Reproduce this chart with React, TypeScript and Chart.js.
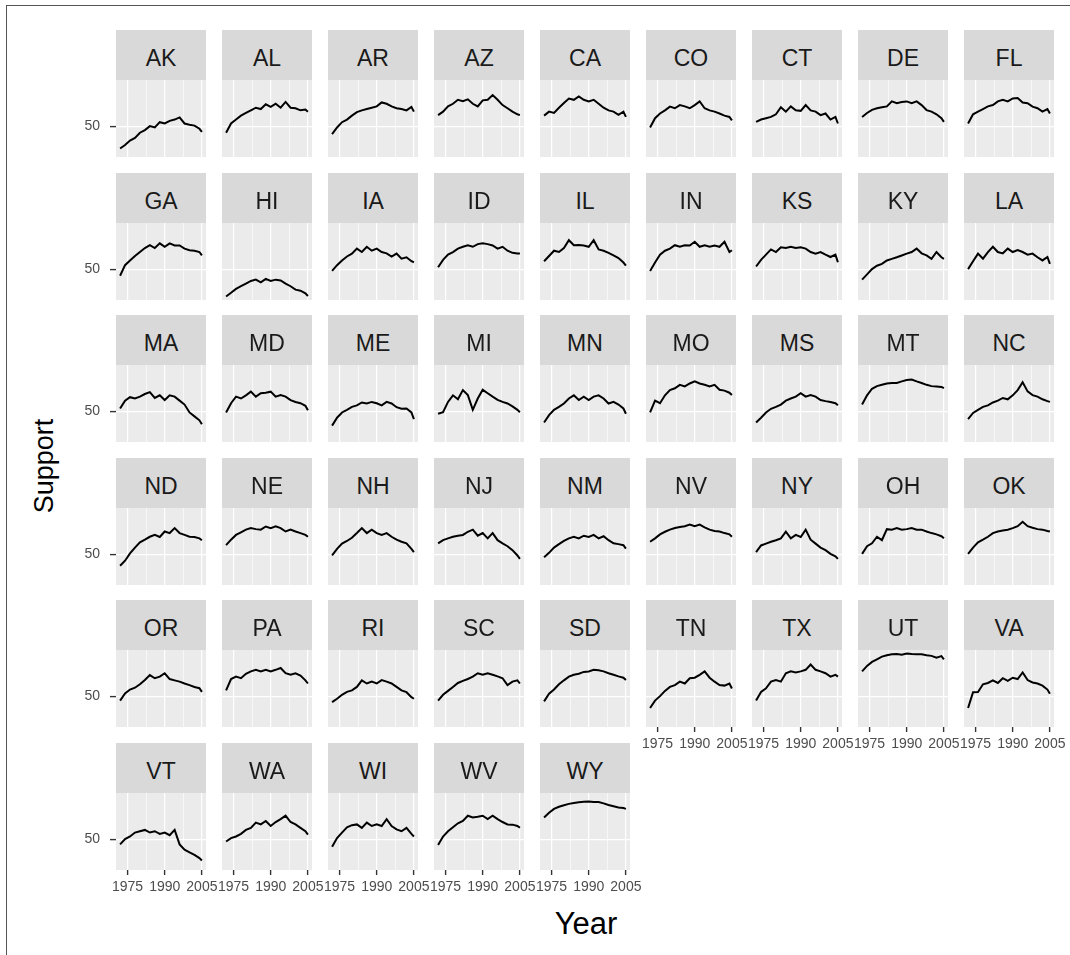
import React, { useEffect, useRef } from "react";
import { Chart, registerables } from "chart.js";

Chart.register(...registerables);

// ---------- data ----------
const YEARS = [1972, 1974, 1976, 1978, 1980, 1982, 1984, 1986, 1988, 1990, 1992, 1994, 1996, 1998, 2000, 2002, 2004, 2005];

const AK = [41.5, 42.8, 44.5, 45.5, 47.5, 48.5, 50, 49.5, 51.5, 51, 52, 52.5, 53.3, 51, 50.5, 50.2, 49, 47.8];
const AL = [47.5, 51, 52.5, 54, 55, 56, 57, 56.5, 58.3, 57.3, 58.5, 57, 59.2, 57, 56.8, 56, 56.3, 55.5];
const AR = [47, 49.5, 51.5, 52.5, 54, 55.3, 56, 56.5, 57, 57.5, 59, 58.5, 57.5, 56.8, 56.5, 56, 57.3, 55.5];
const AZ = [54.2, 55.5, 57.5, 58.5, 60, 59.5, 60.2, 58.5, 57.5, 59.8, 60, 61.8, 60, 58, 56.8, 55.5, 54.5, 54.2];
const CA = [54, 55.5, 55, 57, 58.8, 60.5, 60, 61.3, 60, 59.4, 60, 58.5, 57, 56, 55.5, 54.3, 55.5, 53.5];
const CO = [49.5, 53, 54.8, 56, 57.4, 56.8, 58, 57.5, 56.8, 58, 59.4, 56.8, 56, 55.5, 54.8, 54, 53.5, 52.2];
const CT = [51.6, 52.5, 53, 53.5, 54.5, 57.2, 55.5, 57.5, 56, 55.8, 58, 56, 55.5, 54.2, 54.8, 52.5, 53.5, 51];
const DE = [53.5, 55, 56.2, 56.8, 57.2, 57.5, 59.4, 58.7, 59.2, 59.4, 58.7, 59.4, 58, 56.1, 55.5, 54.5, 53, 51.6];
const FL = [51, 54.5, 55.5, 56.5, 57.5, 58, 59.4, 60, 59.4, 60.5, 60.7, 59, 58.7, 57.4, 56.8, 55.5, 56.5, 54.8];
const GA = [47.5, 51.5, 53.3, 55, 56.5, 58, 59.1, 58, 59.8, 58.5, 59.8, 59, 59, 57.8, 57.2, 57, 56.5, 55.2];
const HI = [39.6, 41, 42.5, 43.5, 44.5, 45.5, 46, 45, 46.3, 45.5, 46, 45.7, 44.5, 43.5, 42.2, 41.8, 40.8, 39.8];
const IA = [49.3, 51.5, 53.3, 54.8, 55.9, 57.8, 56.5, 58.5, 57, 57.8, 56.5, 56, 54.8, 55.9, 54, 54.5, 53, 52.6];
const ID = [50.7, 53.5, 55.5, 56.5, 57.8, 58.5, 59.1, 58.5, 59.5, 59.8, 59.5, 59, 57.8, 58.5, 57, 56.2, 55.9, 55.9];
const IL = [53, 55, 57, 56.5, 58, 61, 59.1, 59.2, 59, 58.5, 61, 57.5, 57, 56.2, 55.2, 54.2, 52.5, 51.3];
const IN = [49.3, 52.5, 55.5, 57, 57.8, 59.1, 58.5, 59.1, 59, 60.4, 58.5, 59.1, 58.5, 59, 58.5, 60.4, 56.5, 57.2];
const KS = [51, 53.5, 55.5, 57.5, 56.5, 58.3, 58, 58.5, 58, 58.3, 57.8, 56.5, 55.9, 56.5, 55.5, 54.6, 55.5, 52.6];
const KY = [46, 48, 50, 51.3, 52, 53.3, 53.9, 54.5, 55.2, 55.9, 56.5, 57.8, 56, 55.2, 53.9, 56.5, 54.5, 53.9];
const LA = [50, 53, 55.9, 54, 56.5, 58.5, 56.5, 56, 57.8, 56.5, 57.2, 56.5, 55.5, 55.9, 54.5, 53.3, 54.6, 52];
const MA = [51, 54, 55.3, 54.8, 55.5, 56.5, 57.2, 55, 56, 54.2, 56, 55.5, 54, 52.5, 49.5, 48, 46.5, 45];
const MD = [49.5, 53, 55.5, 54.8, 56, 57.4, 55.5, 56.8, 57, 57.4, 55.5, 56.1, 55.5, 54.2, 53.5, 53, 52, 50.3];
const ME = [44.5, 47.5, 49.5, 50.5, 51.6, 52.2, 53.3, 52.9, 53.5, 53, 52.2, 53.5, 52.9, 51.5, 50.9, 51, 49.5, 47];
const MI = [49, 49.6, 53.5, 56, 54.5, 58, 56.1, 50.5, 54.8, 58.1, 56.8, 55.5, 54.3, 53.5, 52.9, 51.8, 50.5, 49.6];
const MN = [45.7, 48.5, 50.5, 51.6, 52.9, 54.8, 56, 54.2, 55.5, 54.2, 55.5, 56, 54.8, 52.9, 53.5, 52.5, 51, 49];
const MO = [49.5, 54, 53, 56, 58, 58.7, 60, 59.4, 60.5, 61.3, 60.5, 60, 59.4, 60, 58.1, 57.8, 57, 56.1];
const MS = [45.7, 47.5, 49.5, 50.9, 51.6, 52.5, 54, 54.8, 55.5, 56.8, 55.5, 56.1, 55.5, 54.2, 53.8, 53.5, 53, 52.2];
const MT = [52.5, 56, 58.5, 59.5, 60, 60.5, 60.7, 60.7, 61.3, 61.8, 62, 61.3, 60.7, 60, 59.5, 59.4, 59.2, 58.7];
const NC = [47, 49.3, 50.5, 51.6, 52.2, 53.3, 54, 55, 54.5, 56, 58, 61, 57.5, 56.1, 55.5, 54.5, 53.8, 53.5];
const ND = [45.6, 47.5, 50.3, 52.5, 54.5, 55.5, 56.6, 57.3, 56.5, 58.6, 58, 59.9, 58, 57.3, 56.6, 56.5, 56, 55.3];
const NE = [53.4, 55.5, 57.3, 58.3, 59.3, 59.9, 59.5, 59.3, 60.5, 59.9, 60.6, 59.9, 58.6, 59.3, 58.6, 58, 57.3, 56.6];
const NH = [49.5, 52, 54, 55, 56.2, 58, 59.9, 58, 59.3, 58, 57.3, 58, 56.6, 55.5, 54.7, 54.1, 52, 50.8];
const NJ = [54.1, 55.3, 56, 56.6, 57, 57.3, 58.5, 59.3, 57, 58, 56, 58, 55.3, 54.1, 53, 51.5, 49.5, 48.2];
const NM = [48.8, 50.5, 52.5, 53.8, 55, 56, 56.6, 56, 57, 56.5, 57.3, 56, 56.8, 55.3, 54.1, 53.8, 53.4, 52.1];
const NV = [54.7, 56, 57.5, 58.5, 59.3, 59.9, 60.3, 60.6, 61.2, 60.6, 61.2, 60.2, 59.3, 58.8, 58.6, 58, 57.5, 56.6];
const NY = [50.8, 53.3, 54, 54.7, 55.3, 56, 58.5, 56, 57.3, 56.5, 59.3, 55.5, 54, 52.5, 51.5, 50.1, 49.2, 48.2];
const OH = [50.1, 53, 54.1, 56.6, 55.3, 59.5, 59.3, 59.9, 59.3, 59.5, 59.9, 59.3, 59.3, 58.6, 58, 57.5, 56.8, 56];
const OK = [50.1, 52.5, 54.5, 55.5, 56.6, 58, 58.6, 59, 59.3, 59.9, 60.6, 62.3, 60.6, 60, 59.5, 59.3, 58.8, 58.6];
const OR = [48.3, 51, 52.5, 53.2, 54.5, 56.1, 58, 56.8, 57.4, 58.7, 56.5, 56, 55.5, 54.8, 54.2, 53.5, 53, 51.6];
const PA = [52.2, 56.5, 57.4, 56.8, 58.5, 59.4, 60, 59.4, 60, 59.4, 60, 60.7, 58.7, 58.1, 58.7, 57.8, 56, 54.8];
const RI = [47.7, 49, 50.5, 51.6, 52.2, 53.5, 56, 54.8, 55.5, 54.8, 56.1, 55.5, 54.8, 53.5, 52.2, 51.5, 49.6, 49];
const SC = [48.3, 50.5, 52, 53.5, 55, 55.8, 56.5, 57.4, 58.7, 58.1, 58.7, 58.1, 57.5, 56.8, 54.2, 55.5, 56, 54.8];
const SD = [48, 50.9, 52.5, 54.5, 56, 57.4, 58.1, 58.5, 59.2, 59.4, 60, 59.8, 59.4, 58.7, 58.1, 57.5, 57, 56.1];
const TN = [45.5, 48.3, 50, 52, 53.5, 54.2, 55.5, 54.8, 56.8, 57, 58.1, 59.4, 57, 55.5, 54.2, 54, 54.8, 52.9];
const TX = [48.3, 51.6, 53, 55.5, 56.1, 55.5, 58.7, 59.4, 59, 59.4, 60, 62, 60, 59.4, 58.7, 57.4, 58.1, 57.4];
const UT = [59.4, 61.5, 63, 64, 65, 65.5, 65.9, 66, 65.7, 66.2, 66, 65.9, 65.9, 65.5, 65.3, 64.6, 65.2, 64];
const VA = [45.5, 51.5, 51.6, 54.5, 55, 56, 55, 56.8, 55.8, 57, 56.5, 59, 56.1, 55.2, 54.8, 54, 52.5, 50.9];
const VT = [48, 50, 51, 52.5, 53, 53.5, 52.5, 53, 52, 52.5, 51.5, 53.5, 48, 46, 45, 44, 42.8, 41.9];
const WA = [49.1, 50.4, 51, 52, 53.5, 54.3, 56.3, 55.6, 56.9, 55, 56.5, 57.6, 58.9, 56.5, 55.6, 54.3, 53, 51.7];
const WI = [47.1, 50.4, 52.5, 54.5, 55.3, 55.6, 54.3, 56.3, 55, 55.6, 55, 57.6, 55, 53.7, 53, 54.3, 52, 51];
const WV = [47.8, 51, 53, 54.5, 56, 56.9, 58.9, 58.2, 58.5, 58.9, 57.6, 58.9, 57.6, 56.5, 55.6, 55.5, 55, 54.3];
const WY = [58.2, 60, 61.5, 62.3, 62.9, 63.4, 63.7, 64, 64.2, 64.3, 64.1, 64.1, 63.6, 63, 62.5, 62, 61.8, 61.5];

const STATES = [
  "AK", "AL", "AR", "AZ", "CA", "CO", "CT", "DE", "FL",
  "GA", "HI", "IA", "ID", "IL", "IN", "KS", "KY", "LA",
  "MA", "MD", "ME", "MI", "MN", "MO", "MS", "MT", "NC",
  "ND", "NE", "NH", "NJ", "NM", "NV", "NY", "OH", "OK",
  "OR", "PA", "RI", "SC", "SD", "TN", "TX", "UT", "VA",
  "VT", "WA", "WI", "WV", "WY",
];

const SERIES: Record<string, number[]> = {
  AK, AL, AR, AZ, CA, CO, CT, DE, FL, GA, HI, IA, ID, IL, IN, KS, KY, LA,
  MA, MD, ME, MI, MN, MO, MS, MT, NC, ND, NE, NH, NJ, NM, NV, NY, OH, OK,
  OR, PA, RI, SC, SD, TN, TX, UT, VA, VT, WA, WI, WV, WY,
};

const X_TICKS = [1975, 1982.5, 1990, 1997.5, 2005];
const X_LABELED = [1975, 1990, 2005];
const Y_TICKS = [50];
const X_TITLE = "Year";
const Y_TITLE = "Support";

// ---------- layout ----------
const NCOL = 9;
const PLOT_X0 = 116;
const PITCH_X = 106;
const PLOT_W = 90;
const STRIP_Y0 = 30;
const STRIP_H = 50;
const PLOT_H = 77;
const PITCH_Y = 142.6;
const AXL = 40;
const AXR = 20;
const AXB = 34;
const FONT = '"Liberation Sans", Arial, Helvetica, sans-serif';

const allVals = STATES.flatMap((s) => SERIES[s]);
const Y_LO = Math.min(...allVals);
const Y_HI = Math.max(...allVals);
const Y_MIN = Y_LO - 0.05 * (Y_HI - Y_LO);
const Y_MAX = Y_HI + 0.05 * (Y_HI - Y_LO);
const X_LO = YEARS[0];
const X_HI = YEARS[YEARS.length - 1];
const X_MIN = X_LO - 0.05 * (X_HI - X_LO);
const X_MAX = X_HI + 0.05 * (X_HI - X_LO);

const panelBg = {
  id: "panelBg",
  beforeDraw(chart: any) {
    const a = chart.chartArea;
    if (!a) return;
    const ctx = chart.ctx;
    ctx.save();
    ctx.fillStyle = "#ebebeb";
    ctx.fillRect(a.left, a.top, a.right - a.left, a.bottom - a.top);
    ctx.restore();
  },
};

const zeroPad = (s: any) => {
  s.paddingLeft = 0;
  s.paddingRight = 0;
  s.paddingTop = 0;
  s.paddingBottom = 0;
};

function Panel({ state, idx }: { state: string; idx: number }) {
  const ref = useRef<HTMLCanvasElement>(null);
  const col = idx % NCOL;
  const row = Math.floor(idx / NCOL);
  const showY = col === 0;
  const showX = idx + NCOL >= STATES.length;
  const plotLeft = Math.round(PLOT_X0 + col * PITCH_X);
  const plotTop = Math.round(STRIP_Y0 + STRIP_H + row * PITCH_Y);

  useEffect(() => {
    const vals = SERIES[state];
    const chart = new Chart(ref.current as HTMLCanvasElement, {
      type: "line",
      data: {
        datasets: [
          {
            data: YEARS.map((x, i) => ({ x, y: vals[i] })),
            borderColor: "#000000",
            borderWidth: 2,
            pointRadius: 0,
            tension: 0,
            fill: false,
          },
        ],
      },
      options: {
        animation: false,
        responsive: false,
        devicePixelRatio: 1,
        events: [],
        layout: { padding: { left: 0, top: 0, bottom: 0, right: AXR }, autoPadding: false },
        plugins: {
          legend: { display: false },
          tooltip: { enabled: false },
          title: { display: false },
        },
        scales: {
          x: {
            type: "linear",
            min: X_MIN,
            max: X_MAX,
            afterBuildTicks: (s: any) => {
              s.ticks = X_TICKS.map((v) => ({ value: v }));
            },
            afterFit: (s: any) => {
              s.height = AXB;
              zeroPad(s);
            },
            border: { display: false },
            grid: {
              color: "#ffffff",
              lineWidth: (c: any) => (X_LABELED.includes(c.tick?.value) ? 1.2 : 0.6),
              drawTicks: showX,
              tickLength: 5,
              tickWidth: 1.4,
              tickColor: (c: any) => (X_LABELED.includes(c.tick?.value) ? "#333333" : "rgba(0,0,0,0)"),
            },
            ticks: {
              display: showX,
              autoSkip: false,
              maxRotation: 0,
              minRotation: 0,
              padding: 4,
              color: "#4d4d4d",
              font: { family: FONT, size: 14 },
              callback: (v: any) => (X_LABELED.includes(Number(v)) ? String(v) : ""),
            },
          },
          y: {
            type: "linear",
            min: Y_MIN,
            max: Y_MAX,
            afterBuildTicks: (s: any) => {
              s.ticks = Y_TICKS.map((v) => ({ value: v }));
            },
            afterFit: (s: any) => {
              s.width = AXL;
              zeroPad(s);
            },
            border: { display: false },
            grid: {
              color: "#ffffff",
              lineWidth: 1.2,
              drawTicks: showY,
              tickLength: 6,
              tickWidth: 1.4,
              tickColor: "#333333",
            },
            ticks: {
              display: showY,
              padding: 10,
              color: "#4d4d4d",
              font: { family: FONT, size: 14 },
              callback: (v: any) => String(v),
            },
          },
        },
      },
      plugins: [panelBg],
    } as any);
    return () => chart.destroy();
  }, [state]);

  return (
    <>
      <div
        style={{
          position: "absolute",
          left: plotLeft,
          top: plotTop - STRIP_H,
          width: PLOT_W,
          height: STRIP_H,
          background: "#d9d9d9",
          color: "#1a1a1a",
          fontFamily: FONT,
          fontSize: 23,
          lineHeight: "57px",
          textAlign: "center",
          overflow: "hidden",
        }}
      >
        {state}
      </div>
      <canvas
        ref={ref}
        width={PLOT_W + AXL + AXR}
        height={PLOT_H + AXB}
        style={{
          position: "absolute",
          left: plotLeft - AXL,
          top: plotTop,
          width: PLOT_W + AXL + AXR,
          height: PLOT_H + AXB,
        }}
      />
    </>
  );
}

export default function App() {
  return (
    <div
      style={{
        position: "fixed",
        left: 0,
        top: 0,
        width: 1070,
        height: 955,
        background: "#ffffff",
        overflow: "hidden",
      }}
    >
      <div
        style={{
          position: "absolute",
          left: 6,
          top: 5,
          width: 1070,
          height: 960,
          borderTop: "1px solid #555555",
          borderLeft: "1px solid #555555",
        }}
      />
      {STATES.map((s, i) => (
        <Panel key={s} state={s} idx={i} />
      ))}
      <div
        style={{
          position: "absolute",
          left: 44,
          top: 466,
          transform: "translate(-50%, -50%) rotate(-90deg)",
          fontFamily: FONT,
          fontSize: 27,
          lineHeight: 1,
          color: "#000000",
          whiteSpace: "nowrap",
        }}
      >
        {Y_TITLE}
      </div>
      <div
        style={{
          position: "absolute",
          left: 586,
          top: 923,
          transform: "translate(-50%, -50%)",
          fontFamily: FONT,
          fontSize: 31,
          lineHeight: 1,
          color: "#000000",
          whiteSpace: "nowrap",
        }}
      >
        {X_TITLE}
      </div>
    </div>
  );
}
